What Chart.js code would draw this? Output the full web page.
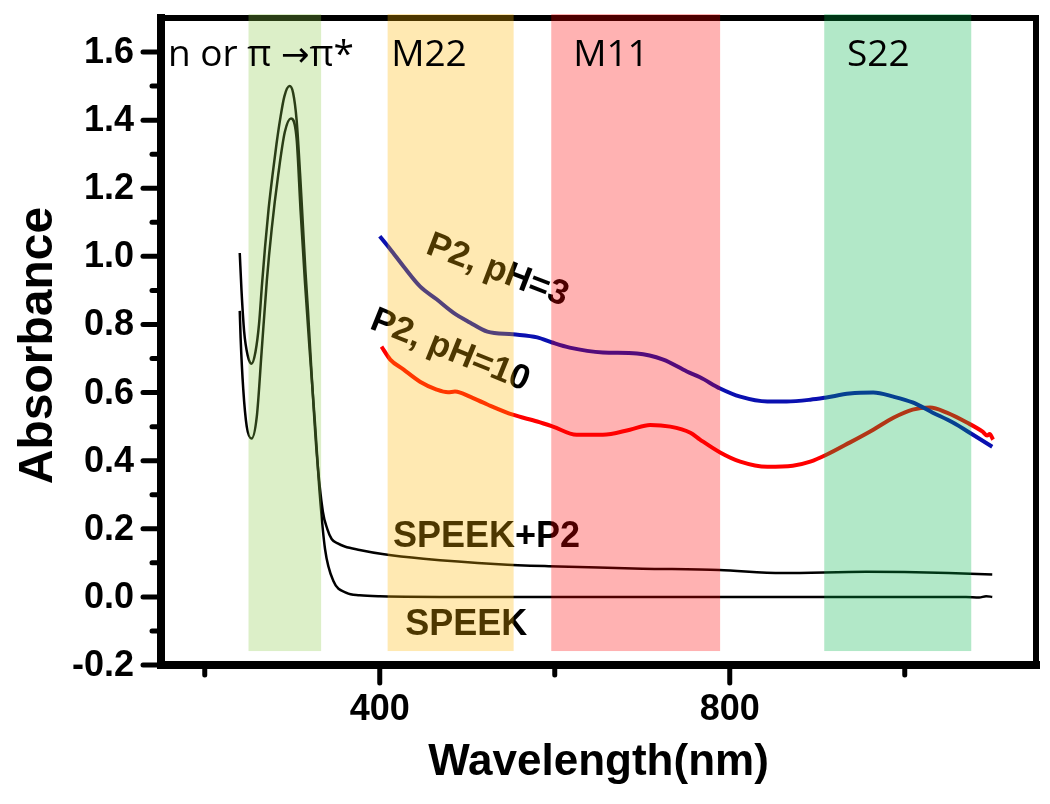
<!DOCTYPE html>
<html>
<head>
<meta charset="utf-8">
<script src="https://cdn.jsdelivr.net/npm/chart.js"></script>
<style>
  html, body { margin:0; padding:0; background:#fff; }
  canvas { display:block; }
</style>
</head>
<body>
<canvas id="uvChart" width="1050" height="804"></canvas>
<script>
// UV-vis-NIR spectra (wavelength nm / absorbance)
const speekP2Nm  = [240, 242, 245, 249, 253.5, 258, 262, 265.5, 269, 273, 277.5, 282, 286, 291, 297, 301, 305, 309, 312, 315, 318, 322, 328, 335, 340, 345, 352, 360, 377, 403, 450, 536, 593, 650, 700, 788, 860, 956, 1000, 1050, 1100];
const speekP2Abs = [1.01, 0.90, 0.78, 0.71, 0.685, 0.72, 0.80, 0.92, 1.03, 1.14, 1.24, 1.33, 1.40, 1.47, 1.50, 1.48, 1.40, 1.24, 1.10, 0.96, 0.84, 0.66, 0.42, 0.25, 0.20, 0.17, 0.157, 0.148, 0.138, 0.126, 0.112, 0.096, 0.09, 0.086, 0.083, 0.079, 0.07, 0.074, 0.073, 0.07, 0.066];

const speekNm  = [240, 241, 244, 248, 253.5, 259.5, 265, 271, 276.5, 284, 291.5, 298.5, 305, 309.5, 314.5, 320, 326, 331.5, 337.5, 347, 362, 377, 400, 500, 600, 700, 800, 900, 1000, 1070, 1085, 1093, 1100];
const speekAbs = [0.84, 0.76, 0.61, 0.50, 0.465, 0.53, 0.72, 0.93, 1.08, 1.24, 1.365, 1.405, 1.345, 1.135, 0.925, 0.72, 0.51, 0.30, 0.14, 0.047, 0.012, 0.005, 0.002, 0.0, 0.0, 0.0, 0.0, 0.0, 0.0, 0.0, -0.002, 0.002, 0.0];

const ph3Nm  = [400, 412, 427, 446, 465, 484, 503, 523, 552, 580, 597, 617, 655, 694, 724, 751, 766, 789, 812, 843, 865, 892, 909, 937, 964, 987, 1009, 1032, 1055, 1078, 1100];
const ph3Abs = [1.059, 1.021, 0.971, 0.912, 0.874, 0.835, 0.806, 0.779, 0.771, 0.762, 0.747, 0.732, 0.718, 0.715, 0.697, 0.662, 0.645, 0.612, 0.588, 0.574, 0.574, 0.579, 0.585, 0.597, 0.60, 0.588, 0.571, 0.541, 0.512, 0.476, 0.441];

const ph10Nm  = [402, 412, 427, 446, 465, 478, 486, 492, 503, 523, 552, 580, 598, 625, 655, 686, 709, 732, 755, 766, 789, 812, 843, 872, 892, 911, 937, 964, 987, 1009, 1029, 1048, 1071, 1089, 1094, 1097, 1101];
const ph10Abs = [0.735, 0.697, 0.668, 0.632, 0.609, 0.601, 0.603, 0.600, 0.588, 0.565, 0.535, 0.515, 0.50, 0.476, 0.476, 0.491, 0.505, 0.50, 0.482, 0.462, 0.424, 0.397, 0.382, 0.385, 0.397, 0.418, 0.453, 0.491, 0.526, 0.55, 0.556, 0.541, 0.512, 0.485, 0.474, 0.478, 0.462];

// shaded transition regions (nm)
const bandStart  = [250, 409, 596, 908];
const bandEnd    = [333, 553, 789, 1076];
const bandLabels = ['n or π →π*', 'M22', 'M11', 'S22'];

// axis ticks
const xMajorTicks = [400, 800];
const xMinorTicks = [200, 600, 1000];
const yMajorTicks = [-0.2, 0, 0.2, 0.4, 0.6, 0.8, 1.0, 1.2, 1.4, 1.6];
const yMinorTicks = [-0.1, 0.1, 0.3, 0.5, 0.7, 0.9, 1.1, 1.3, 1.5];
const yTickLabels = ['-0.2', '0.0', '0.2', '0.4', '0.6', '0.8', '1.0', '1.2', '1.4', '1.6'];

const pts = (xs, ys) => xs.map((x, i) => ({ x, y: ys[i] }));

const BOLD = '"Liberation Sans", Arial, sans-serif';
const bandFill = ['rgba(138,202,72,0.3)', 'rgba(255,182,0,0.3)', 'rgba(255,0,0,0.3)', 'rgba(0,178,72,0.3)'];

const overlay = {
  id: 'overlay',
  afterDatasetsDraw(chart) {
    const ctx = chart.ctx, xs = chart.scales.x, ys = chart.scales.y;
    const { left, right, top, bottom } = chart.chartArea;
    ctx.save();

    // curve labels (sit under the shaded bands)
    ctx.fillStyle = '#000';
    ctx.textBaseline = 'alphabetic';
    ctx.textAlign = 'left';
    ctx.font = 'bold 36px ' + BOLD;
    ctx.fillText('SPEEK+P2', xs.getPixelForValue(415), ys.getPixelForValue(0.147));
    ctx.fillText('SPEEK', xs.getPixelForValue(429), ys.getPixelForValue(-0.112));
    const tilted = (txt, nm, a, deg) => {
      ctx.save();
      ctx.translate(xs.getPixelForValue(nm), ys.getPixelForValue(a));
      ctx.rotate(deg * Math.PI / 180);
      ctx.fillText(txt, 0, 0);
      ctx.restore();
    };
    ctx.font = 'bold 35px ' + BOLD;
    tilted('P2, pH=3', 451, 1.01, 21);
    tilted('P2, pH=10', 387, 0.79, 22);

    // frame
    ctx.strokeStyle = '#000';
    ctx.lineCap = 'square';
    const line = (x1, y1, x2, y2, w) => { ctx.lineWidth = w; ctx.beginPath(); ctx.moveTo(x1, y1); ctx.lineTo(x2, y2); ctx.stroke(); };
    line(left, top, right, top, 6);
    line(right, top, right, bottom, 6);
    line(left, top, left, bottom, 8);
    line(left, bottom, right, bottom, 8);

    // ticks
    ctx.lineCap = 'round';
    yMajorTicks.forEach(v => { const p = ys.getPixelForValue(v); line(left - 18, p, left, p, 5); });
    yMinorTicks.forEach(v => { const p = ys.getPixelForValue(v); line(left - 9, p, left, p, 5); });
    xMajorTicks.forEach(v => { const p = xs.getPixelForValue(v); line(p, bottom, p, bottom + 18, 5); });
    xMinorTicks.forEach(v => { const p = xs.getPixelForValue(v); line(p, bottom, p, bottom + 10, 5); });

    ctx.font = 'bold 36px ' + BOLD;
    ctx.textAlign = 'right';
    ctx.textBaseline = 'middle';
    yMajorTicks.forEach((v, i) => ctx.fillText(yTickLabels[i], left - 27, ys.getPixelForValue(v) + 1));
    ctx.textAlign = 'center';
    ctx.textBaseline = 'alphabetic';
    xMajorTicks.forEach(v => ctx.fillText(String(v), xs.getPixelForValue(v), bottom + 55));

    // axis titles
    ctx.font = 'bold 44px ' + BOLD;
    ctx.fillText('Wavelength(nm)', (left + right) / 2, bottom + 110);
    ctx.save();
    ctx.translate(52, (top + bottom) / 2 + 4);
    ctx.rotate(-Math.PI / 2);
    ctx.font = 'bold 48px ' + BOLD;
    ctx.fillText('Absorbance', 0, 0);
    ctx.restore();

    // shaded bands over everything in the plot
    const bandBottom = ys.getPixelForValue(-0.159);
    bandStart.forEach((s, i) => {
      const x1 = xs.getPixelForValue(s), x2 = xs.getPixelForValue(bandEnd[i]);
      ctx.fillStyle = bandFill[i];
      ctx.fillRect(x1, top - 4, x2 - x1, bandBottom - top + 4);
    });

    // band labels on top; the arrow comes from DejaVu so it is full size
    ctx.fillStyle = '#000';
    ctx.textAlign = 'left';
    const labelNm = [158, 413, 621, 934];
    const base = ys.getPixelForValue(1.56);
    const txtFont = '37px "Open Sans", "Noto Sans", sans-serif';
    bandLabels.forEach((t, i) => {
      let x = xs.getPixelForValue(labelNm[i]);
      t.split(/(→)/).forEach(part => {
        ctx.font = part === '→' ? '34px "DejaVu Sans", sans-serif' : txtFont;
        ctx.fillText(part, x, base);
        x += ctx.measureText(part).width;
      });
    });

    ctx.restore();
  }
};

const line = (data, color, width) => ({
  data, borderColor: color, borderWidth: width, pointRadius: 0,
  cubicInterpolationMode: 'monotone', fill: false
});

new Chart(document.getElementById('uvChart'), {
  type: 'line',
  data: {
    datasets: [
      line(pts(speekP2Nm, speekP2Abs), '#000', 2.5),
      line(pts(speekNm, speekAbs), '#000', 2.5),
      line(pts(ph3Nm, ph3Abs), '#0a10b0', 4),
      line(pts(ph10Nm, ph10Abs), '#ff0000', 4)
    ]
  },
  options: {
    responsive: false, animation: false, devicePixelRatio: 1,
    layout: { padding: { left: 161, right: 14, top: 18, bottom: 139 } },
    plugins: { legend: { display: false }, tooltip: { enabled: false } },
    scales: {
      x: { type: 'linear', min: 150, max: 1150, display: false },
      y: { type: 'linear', min: -0.2, max: 1.7, display: false }
    }
  },
  plugins: [overlay]
});
</script>
</body>
</html>
